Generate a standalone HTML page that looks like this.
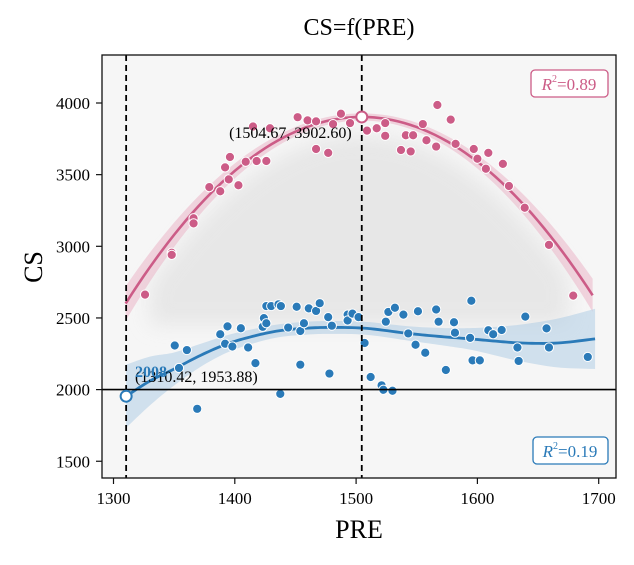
<!DOCTYPE html>
<html><head><meta charset="utf-8"><style>
body{margin:0;background:#fff;width:634px;height:560px;overflow:hidden}
svg text{font-family:"Liberation Serif",serif}
</style></head><body>
<svg id="chart" width="634" height="560">
<defs><filter id="blur" x="-20%" y="-20%" width="140%" height="140%"><feGaussianBlur stdDeviation="10"/></filter>
<clipPath id="clip"><rect x="102" y="55" width="514" height="423"/></clipPath></defs>
<rect x="102" y="55" width="514" height="423" fill="#f6f6f6"/>
<g id="plot" clip-path="url(#clip)"></g>
<rect x="102" y="55" width="514" height="423" fill="none" stroke="#111" stroke-width="1.3"/>
<g id="axes"></g>
<text x="359" y="35" font-size="24" text-anchor="middle">CS=f(PRE)</text>
<text x="359" y="538" font-size="26" text-anchor="middle">PRE</text>
<text transform="translate(42,267) rotate(-90)" font-size="26" text-anchor="middle">CS</text>
<g><rect x="531" y="70" width="77" height="27" rx="4" fill="#fff" stroke="#cc5c87" stroke-width="1.3"/><text x="569" y="90" font-size="17" fill="#cc5c87" text-anchor="middle"><tspan font-style="italic">R</tspan><tspan font-size="10" dy="-8">2</tspan><tspan dy="8">=0.89</tspan></text></g>
<g><rect x="533" y="437" width="75" height="27" rx="4" fill="#fff" stroke="#2a7ab8" stroke-width="1.3"/><text x="570" y="457" font-size="17" fill="#2a7ab8" text-anchor="middle"><tspan font-style="italic">R</tspan><tspan font-size="10" dy="-8">2</tspan><tspan dy="8">=0.19</tspan></text></g>
</svg>
<script>
const xTicks=[1300,1400,1500,1600,1700];
const yTicks=[1500,2000,2500,3000,3500,4000];
const pinkX=[1451.8,1460,1467,1481,1487.5,1495,1509,1517,1524,1524,1541,1547,1555,1567,1578,1558,1566,1582,1597,1609,1600,1621,1607,1626,1639,1659,1537,1545,1477,1467,1429,1415,1426,1418,1409,1396,1392,1395,1403,1388,1379,1366,1366,1348,1348,1326,1679];
const pinkY=[3901,3879,3872,3853,3925,3860,3807,3824,3860,3771,3775,3775,3853,3986,3884,3740,3696,3715,3679,3652,3611,3575,3541,3421,3269,3010,3672,3662,3652,3679,3824,3836,3595,3595,3590,3623,3551,3467,3426,3384,3413,3196,3160,2955,2940,2663,2656];
const blueX=[1350.5,1360.5,1354,1369,1388,1392,1394,1398,1405,1411,1417,1423,1424,1426,1426,1430,1436,1438,1444,1437.5,1451,1454,1454,1457,1461,1467,1470,1477,1480,1478,1493,1493,1497,1502,1507,1512,1521,1522.5,1530,1524.5,1526.6,1532,1539,1543,1549,1551,1557,1566,1568,1574,1580.7,1581.5,1594,1595,1596,1602,1609,1613,1620,1633,1634,1639.5,1657,1659,1691];
const blueY=[2308,2276,2151,1866,2386,2320,2441,2301,2428,2294,2185,2438,2499,2463,2583,2583,2595,2583,2433,1970,2578,2174,2409,2463,2567,2549,2603,2506,2446,2112,2523,2482,2530,2506,2325,2088,2030,1999,1992,2474,2542,2571,2523,2392,2313,2547,2257,2559,2474,2137,2470,2397,2361,2620,2204,2204,2414,2386,2416,2294,2200,2509,2427,2294,2228];
const blueCurveX=[1310.42,1330,1350,1372,1394,1415,1436,1458,1480,1509,1543,1570,1594,1615,1637,1666,1697];
const blueCurveY=[1953.88,2060,2144,2240,2320,2372,2410,2428,2434,2427,2392,2370,2354,2338,2325,2325,2354];
const blueBand=[220,170,115,80,60,50,45,45,45,45,50,60,75,100,130,170,210];
const pinkPeak=[1504.67,3902.60];
const pinkCoef=0.03436;
const X=v=>113.5+(v-1300)*1.213, Y=v=>103+(4000-v)*0.1433;
const NS='http://www.w3.org/2000/svg';
function mk(t,a,p){const e=document.createElementNS(NS,t);for(const k in a)e.setAttribute(k,a[k]);p.appendChild(e);return e;}
const plot=document.getElementById('plot'), axes=document.getElementById('axes');
const pf=x=>pinkPeak[1]-pinkCoef*(x-pinkPeak[0])**2;
let cp=[];for(let x=1330;x<=1675;x+=5)cp.push(X(x)+','+Y(pf(x)-130));
cp.push(X(1675)+','+Y(2450));cp.push(X(1330)+','+Y(2450));
const cloud=mk('polygon',{points:cp.join(' '),fill:'#e2e2e2',opacity:'0.75',filter:'url(#blur)'},plot);


let up=[],dn=[],ln=[];
for(let x=1310;x<=1695;x+=5){const w=25+0.0025*(x-1505)**2;up.push(X(x)+','+Y(pf(x)+w));dn.unshift(X(x)+','+Y(pf(x)-w));ln.push(X(x)+','+Y(pf(x)));}
const pb=mk('polygon',{points:up.concat(dn).join(' '),fill:'#e9a8bf',opacity:'0.45'},plot);


const pl=mk('polyline',{points:ln.join(' '),fill:'none',stroke:'#cc5c87','stroke-width':2.6},plot);


function smooth(xs,ys){let p=[];const n=xs.length;for(let i=0;i<n-1;i++){const x0=xs[Math.max(0,i-1)],y0=ys[Math.max(0,i-1)],x1=xs[i],y1=ys[i],x2=xs[i+1],y2=ys[i+1],x3=xs[Math.min(n-1,i+2)],y3=ys[Math.min(n-1,i+2)];for(let t=0;t<1;t+=0.1){const t2=t*t,t3=t2*t;const f=(a,b,c,d)=>0.5*(2*b+(-a+c)*t+(2*a-5*b+4*c-d)*t2+(-a+3*b-3*c+d)*t3);p.push([f(x0,x1,x2,x3),f(y0,y1,y2,y3)]);}}p.push([xs[n-1],ys[n-1]]);return p;}
const bc=smooth(blueCurveX,blueCurveY);
const bu=smooth(blueCurveX,blueCurveY.map((v,i)=>v+blueBand[i]));
const bd=smooth(blueCurveX,blueCurveY.map((v,i)=>v-blueBand[i]));
const bb=mk('polygon',{points:bu.map(p=>X(p[0])+','+Y(p[1])).concat(bd.reverse().map(p=>X(p[0])+','+Y(p[1]))).join(' '),fill:'#a9c9e3',opacity:'0.5'},plot);


const bl=mk('polyline',{points:bc.map(p=>X(p[0])+','+Y(p[1])).join(' '),fill:'none',stroke:'#2a7ab8','stroke-width':2.8},plot);


pinkX.forEach((v,i)=>{const c=mk('circle',{cx:X(v),cy:Y(pinkY[i]),r:4.6,fill:'#cc5c87',stroke:'#fff','stroke-width':1},plot);

});
blueX.forEach((v,i)=>{const c=mk('circle',{cx:X(v),cy:Y(blueY[i]),r:4.6,fill:'#2a7ab8',stroke:'#fff','stroke-width':1},plot);

});
const r1=mk('line',{x1:X(1310.42),x2:X(1310.42),y1:55,y2:478,stroke:'#000','stroke-width':1.8,'stroke-dasharray':'6,4'},plot);


const r2=mk('line',{x1:X(pinkPeak[0]),x2:X(pinkPeak[0]),y1:55,y2:478,stroke:'#000','stroke-width':1.8,'stroke-dasharray':'6,4'},plot);


const h=mk('line',{x1:102,x2:616,y1:Y(2000),y2:Y(2000),stroke:'#000','stroke-width':1.6},plot);


const m1=mk('circle',{cx:X(pinkPeak[0]),cy:Y(pinkPeak[1]),r:5.5,fill:'#fff',stroke:'#cc5c87','stroke-width':2},plot);


const m2=mk('circle',{cx:X(1310.42),cy:Y(1953.88),r:5.5,fill:'#fff',stroke:'#2a7ab8','stroke-width':2},plot);


const t1=mk('text',{x:X(pinkPeak[0])-10,y:138,'font-size':16,'text-anchor':'end'},plot);t1.textContent='(1504.67, 3902.60)';


const t2=mk('text',{x:135,y:382,'font-size':16},plot);t2.textContent='(1310.42, 1953.88)';


const t3=mk('text',{x:135,y:377,'font-size':16,'font-weight':'bold',fill:'#2a7ab8'},plot);t3.textContent='2008';


xTicks.forEach(v=>{const l=mk('line',{x1:X(v),x2:X(v),y1:478,y2:484,stroke:'#111','stroke-width':1.2},axes);


const t=mk('text',{x:X(v),y:504,'font-size':17,'text-anchor':'middle'},axes);t.textContent=v;

});
yTicks.forEach(v=>{const l=mk('line',{x1:96,x2:102,y1:Y(v),y2:Y(v),stroke:'#111','stroke-width':1.2},axes);


const t=mk('text',{x:90,y:Y(v)+6,'font-size':17,'text-anchor':'end'},axes);t.textContent=v;

});
</script>
</body></html>
